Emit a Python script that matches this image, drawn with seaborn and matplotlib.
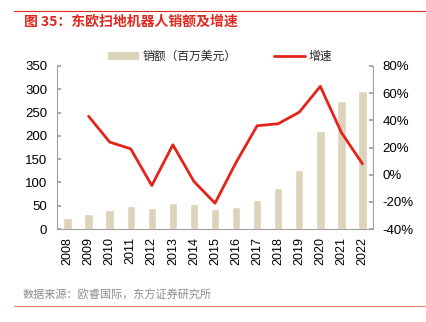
import matplotlib
matplotlib.use("Agg")
import matplotlib.pyplot as plt
import seaborn as sns
import numpy as np
import pandas as pd
from matplotlib.lines import Line2D
from matplotlib.patches import Patch

years = ["2008", "2009", "2010", "2011", "2012", "2013", "2014", "2015",
         "2016", "2017", "2018", "2019", "2020", "2021", "2022"]
sales = [23, 33, 41, 50, 46, 56, 54, 42, 47, 63, 87, 127, 210, 275, 297]
growth = [np.nan, 43, 24, 19, -8, 22, -5, -21, 9, 36, 37.5, 46, 65, 31, 8]

title = "图 35：东欧扫地机器人销额及增速"
source = "数据来源：欧睿国际，东方证券研究所"
bar_label = "销额（百万美元）"
line_label = "增速"

sns.set_theme(style="white")
plt.rcParams['font.family'] = ['Liberation Sans', 'Noto Sans CJK SC', 'DejaVu Sans']

bar_color = "#DDD3BB"
red = "#E3241B"

df = pd.DataFrame({"year": years, "sales": sales, "growth": growth,
                   "pos": np.arange(len(years))})

fig = plt.figure(figsize=(4.27, 3.22), dpi=100)
ax = fig.add_axes([57/427, 1-229/322, (373-57)/427, (229-66)/322])
sns.barplot(data=df, x="year", y="sales", ax=ax, color=bar_color,
            width=0.4, saturation=1)
ax.set_ylim(0, 350)
ax.set_yticks(range(0, 351, 50))
ax.set_xlim(-0.5, len(years)-0.5)
ax.set_xlabel("")
ax.set_ylabel("")

ax2 = ax.twinx()
sns.lineplot(data=df.dropna(), x="pos", y="growth", ax=ax2, color=red, linewidth=2)
ax2.set_ylim(-40, 80)
ax2.set_yticks(range(-40, 81, 20))
ax2.set_yticklabels([f"{v}%" for v in range(-40, 81, 20)])
ax2.set_ylabel("")
ax2.set_xlim(-0.5, len(years)-0.5)

spine_c = "#A0A0A0"
for a in (ax, ax2):
    a.spines["top"].set_visible(False)
    for s in ("left", "right", "bottom"):
        a.spines[s].set_color(spine_c)
        a.spines[s].set_linewidth(0.8)
ax.spines["right"].set_visible(False)
ax2.spines["left"].set_visible(False)
ax2.spines["bottom"].set_visible(False)

ax.tick_params(axis="y", direction="in", length=3, color=spine_c, labelsize=9.5, pad=7, labelcolor="#000000")
ax2.tick_params(axis="y", direction="in", length=3, color=spine_c, labelsize=9.5, pad=7, labelcolor="#000000")
ax.set_xticks(np.arange(-0.5, len(years)), minor=True)
ax.tick_params(axis="x", which="major", length=0, labelsize=9, rotation=90, pad=6, labelcolor="#000000")
ax.tick_params(axis="x", which="minor", direction="in", length=3, color=spine_c)

handles = [Patch(facecolor=bar_color, edgecolor="none", label=bar_label),
           Line2D([0], [0], color=red, linewidth=2, label=line_label)]
fig.legend(handles=handles, loc="center", bbox_to_anchor=(220/427, 1-57/322),
           ncol=2, frameon=False, fontsize=8.5, handlelength=2.6, handleheight=0.6,
           columnspacing=3.2, handletextpad=0.3)

fig.text(24/427, 1-22/322, title, color="#E0281E", fontsize=10, fontweight="bold",
         va="center", ha="left", family=['Noto Sans CJK SC', 'DejaVu Sans'])
fig.text(23/427, 1-295/322, source, color="#8C8C8C", fontsize=8,
         va="center", ha="left", family=['Noto Sans CJK SC', 'DejaVu Sans'])
fig.add_artist(Line2D([14/427, 1], [1-11/322, 1-11/322], color="#E0281E", linewidth=0.8))
fig.add_artist(Line2D([14/427, 1], [1-306/322, 1-306/322], color="#F08070", linewidth=0.8))

fig.savefig("out.png", dpi=100)
